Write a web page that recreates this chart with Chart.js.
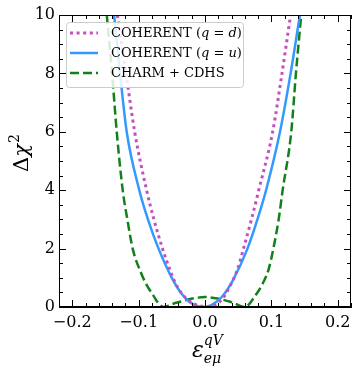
<!DOCTYPE html>
<html>
<head>
    <title>Delta chi^2 vs epsilon</title>
    <script src="https://cdn.jsdelivr.net/npm/chart.js@4.4.0/dist/chart.umd.min.js"></script>
    <style>
        html, body { margin: 0; padding: 0; background: white; }
        #wrap { width: 360px; height: 370px; }
    </style>
</head>
<body>
<div id="wrap"><canvas id="chart" width="360" height="370"></canvas></div>
<script>
    // tick labels
    const xTicks = [-0.2, -0.1, 0.0, 0.1, 0.2];
    const yTicks = [0, 2, 4, 6, 8, 10];

    // COHERENT (q = d)
    const cohDX = [-0.132, -0.119, -0.106, -0.088, -0.077, -0.064, -0.052, -0.042, -0.029, -0.014, 0.0, 0.016, 0.027, 0.036, 0.049, 0.058, 0.070, 0.081, 0.102, 0.116, 0.129];
    const cohDY = [10, 8, 6, 4, 3, 2, 1.22, 0.70, 0.31, 0.08, 0.02, 0.08, 0.30, 0.65, 1.29, 2, 3, 4, 6, 8, 10];

    // COHERENT (q = u)
    const cohUX = [-0.137, -0.128, -0.118, -0.099, -0.086, -0.070, -0.050, -0.034, -0.017, 0.0, 0.011, 0.026, 0.041, 0.064, 0.079, 0.092, 0.113, 0.129, 0.143];
    const cohUY = [10, 8, 6, 4, 3, 2, 1.0, 0.42, 0.08, 0.0, 0.08, 0.36, 0.87, 2, 3, 4, 6, 8, 10];

    // CHARM + CDHS
    const chX = [-0.148, -0.140, -0.133, -0.124, -0.117, -0.109, -0.097, -0.088, -0.078, -0.070, -0.063, -0.056, -0.048, -0.039, -0.019, 0.0, 0.019, 0.039, 0.047, 0.054, 0.061, 0.067, 0.074, 0.086, 0.096, 0.103, 0.111, 0.117, 0.130, 0.137, 0.145];
    const chY = [10, 8, 6, 4, 3, 2, 1.2, 0.76, 0.40, 0.12, 0.0, 0.04, 0.11, 0.17, 0.29, 0.34, 0.29, 0.17, 0.10, 0.03, 0.0, 0.11, 0.33, 0.76, 1.3, 2, 3, 4, 6, 8, 10];

    const SERIF = "'DejaVu Serif', serif";
    const PINK = '#c44fbf';
    const BLUE = '#3399ff';
    const GREEN = '#13801b';

    function pts(xs, ys) {
        return xs.map((x, i) => ({x: x, y: ys[i]}));
    }

    // legend rows: text pieces, italic flag
    const legendRows = [
        {color: PINK, dash: [3, 3.6], width: 3, parts: [['COHERENT (', false], ['q', true], [' = ', false], ['d', true], [')', false]]},
        {color: BLUE, dash: [], width: 2.5, parts: [['COHERENT (', false], ['q', true], [' = ', false], ['u', true], [')', false]]},
        {color: GREEN, dash: [9, 4], width: 2.5, parts: [['CHARM + CDHS', false]]}
    ];

    const decor = {
        id: 'decor',
        afterDraw(chart) {
            const ctx = chart.ctx;
            const a = chart.chartArea;
            const xs = chart.scales.x, ys = chart.scales.y;
            ctx.save();
            ctx.strokeStyle = '#000';
            ctx.lineWidth = 1;
            ctx.strokeRect(a.left + 0.5, a.top + 0.5, a.right - a.left - 1, a.bottom - a.top - 1);

            // inward ticks on all sides
            function xt(v, len) {
                const p = Math.round(xs.getPixelForValue(v)) + 0.5;
                ctx.beginPath();
                ctx.moveTo(p, a.bottom); ctx.lineTo(p, a.bottom - len);
                ctx.moveTo(p, a.top); ctx.lineTo(p, a.top + len);
                ctx.stroke();
            }
            function yt(v, len) {
                const p = Math.round(ys.getPixelForValue(v)) + 0.5;
                ctx.beginPath();
                ctx.moveTo(a.left, p); ctx.lineTo(a.left + len, p);
                ctx.moveTo(a.right, p); ctx.lineTo(a.right - len, p);
                ctx.stroke();
            }
            for (let i = -11; i <= 11; i++) {
                const v = i * 0.02;
                if (i % 5 !== 0) xt(v, 4);
            }
            xTicks.forEach(v => xt(v, 7));
            for (let v = 0.5; v < 10; v += 0.5) {
                if (v % 2 !== 0) yt(v, 4);
            }
            yTicks.forEach(v => yt(v, 7));

            // legend
            const lx = 66, ly = 22, lw = 177, lh = 65;
            ctx.fillStyle = 'rgba(255,255,255,0.85)';
            ctx.strokeStyle = '#cccccc';
            ctx.lineWidth = 1;
            ctx.beginPath();
            ctx.roundRect(lx + 0.5, ly + 0.5, lw, lh, 3);
            ctx.fill();
            ctx.stroke();
            legendRows.forEach((r, i) => {
                const cy = 33 + i * 20;
                ctx.strokeStyle = r.color;
                ctx.lineWidth = r.width;
                ctx.setLineDash(r.dash);
                ctx.beginPath();
                ctx.moveTo(70, cy);
                ctx.lineTo(98, cy);
                ctx.stroke();
                ctx.setLineDash([]);
                ctx.fillStyle = '#000';
                ctx.textBaseline = 'middle';
                let tx = 111;
                r.parts.forEach(p => {
                    ctx.font = (p[1] ? 'italic ' : '') + '13px ' + SERIF;
                    ctx.fillText(p[0], tx, cy + 1);
                    tx += ctx.measureText(p[0]).width;
                });
            });

            // axis titles
            ctx.fillStyle = '#000';
            ctx.textBaseline = 'alphabetic';
            ctx.save();
            ctx.translate(28, 172);
            ctx.rotate(-Math.PI / 2);
            ctx.font = '21px ' + SERIF;
            ctx.fillText('Δ', 0, 0);
            let w = ctx.measureText('Δ').width;
            ctx.font = 'italic 21px ' + SERIF;
            ctx.fillText('χ', w, 0);
            w += ctx.measureText('χ').width;
            ctx.font = '14px ' + SERIF;
            ctx.fillText('2', w + 1, -9);
            ctx.restore();

            ctx.font = 'italic 22px ' + SERIF;
            ctx.fillText('ε', 192, 357);
            const ew = ctx.measureText('ε').width;
            ctx.font = 'italic 14px ' + SERIF;
            ctx.fillText('qV', 192 + ew, 345);
            ctx.fillText('eμ', 192 + ew, 363);
            ctx.restore();
        }
    };

    const ctx = document.getElementById('chart');
    const chart = new Chart(ctx, {
        type: 'line',
        data: {
            datasets: [
                {label: 'COHERENT (q = d)', data: pts(cohDX, cohDY), borderColor: PINK, borderWidth: 3, borderDash: [3, 3.6], pointRadius: 0, cubicInterpolationMode: 'monotone'},
                {label: 'COHERENT (q = u)', data: pts(cohUX, cohUY), borderColor: BLUE, borderWidth: 2.5, pointRadius: 0, cubicInterpolationMode: 'monotone'},
                {label: 'CHARM + CDHS', data: pts(chX, chY), borderColor: GREEN, borderWidth: 2.5, borderDash: [9, 4], pointRadius: 0, cubicInterpolationMode: 'monotone'}
            ]
        },
        options: {
            responsive: false,
            animation: false,
            layout: {padding: {left: 0, right: 9, top: 15, bottom: 0}},
            plugins: {legend: {display: false}, tooltip: {enabled: false}},
            scales: {
                x: {
                    type: 'linear',
                    min: -0.22,
                    max: 0.22,
                    afterBuildTicks: (s) => { s.ticks = xTicks.map(v => ({value: v})); },
                    afterFit: (s) => { s.height = 63; },
                    grid: {display: true, drawOnChartArea: false, drawTicks: false},
                    border: {display: true, color: '#000', width: 1},
                    ticks: {
                        padding: 6,
                        color: '#000',
                        font: {family: SERIF, size: 16},
                        callback: (v) => (v < 0 ? '\u2212' : '') + Math.abs(v).toFixed(1)
                    }
                },
                y: {
                    type: 'linear',
                    min: 0,
                    max: 10,
                    afterBuildTicks: (s) => { s.ticks = yTicks.map(v => ({value: v})); },
                    afterFit: (s) => { s.width = 59; },
                    grid: {display: true, drawOnChartArea: false, drawTicks: false},
                    border: {display: true, color: '#000', width: 1},
                    ticks: {
                        padding: 4,
                        color: '#000',
                        font: {family: SERIF, size: 16},
                        callback: (v) => String(v)
                    }
                }
            }
        },
        plugins: [decor]
    });
</script>
</body>
</html>
